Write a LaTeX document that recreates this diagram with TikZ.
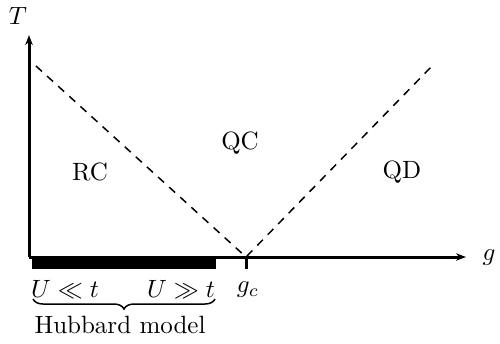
\documentclass[tikz,border=0pt]{standalone}
\usepackage{amsmath}
\usetikzlibrary{arrows.meta,decorations.pathreplacing}
\begin{document}
\begin{tikzpicture}[x=0.4pt,y=-0.4pt,
  axis/.style={line width=1.2pt,-{Stealth[length=4pt,width=3pt]}},
  phase/.style={line width=0.6pt,dash pattern=on 3.2pt off 2.8pt},
  lbl/.style={inner sep=0pt,font=\normalsize}]
\useasboundingbox (0,0) rectangle (500,343);
\coordinate (O) at (29,257);
\coordinate (Ytop) at (29,35);
\coordinate (Xend) at (466,257);
\coordinate (gc) at (246,257);
\coordinate (gcb) at (246,267);
\coordinate (L) at (36,66);
\coordinate (R) at (432,66);
\draw[line width=1.2pt,line cap=rect] (gc) -- (gcb);
\draw[phase] (L) -- (gc) -- (R);
\draw[axis] (Ytop |- O) -- (Ytop);
\draw[axis] (O) -- (Xend);
\fill (32,256) rectangle (216,269);
\node[lbl] (T) at (18,16) {$T$};
\node[lbl] (g) at (489,258) {$g$};
\node[lbl] (gcl) at (248,290) {$g_c$};
\node[lbl] (RC) at (90,172) {RC};
\node[lbl] (QC) at (240,143) {QC};
\node[lbl] (QD) at (402,172) {QD};
\node[lbl] (U1) at (65,289) {$U\ll t$};
\node[lbl] (U2) at (181,289) {$U\gg t$};
\draw[line width=0.6pt,decorate,decoration={brace,mirror,amplitude=4pt}] (33,299) -- (215,299);
\node[lbl] (H) at (120,325) {Hubbard model};
\end{tikzpicture}
\end{document}
